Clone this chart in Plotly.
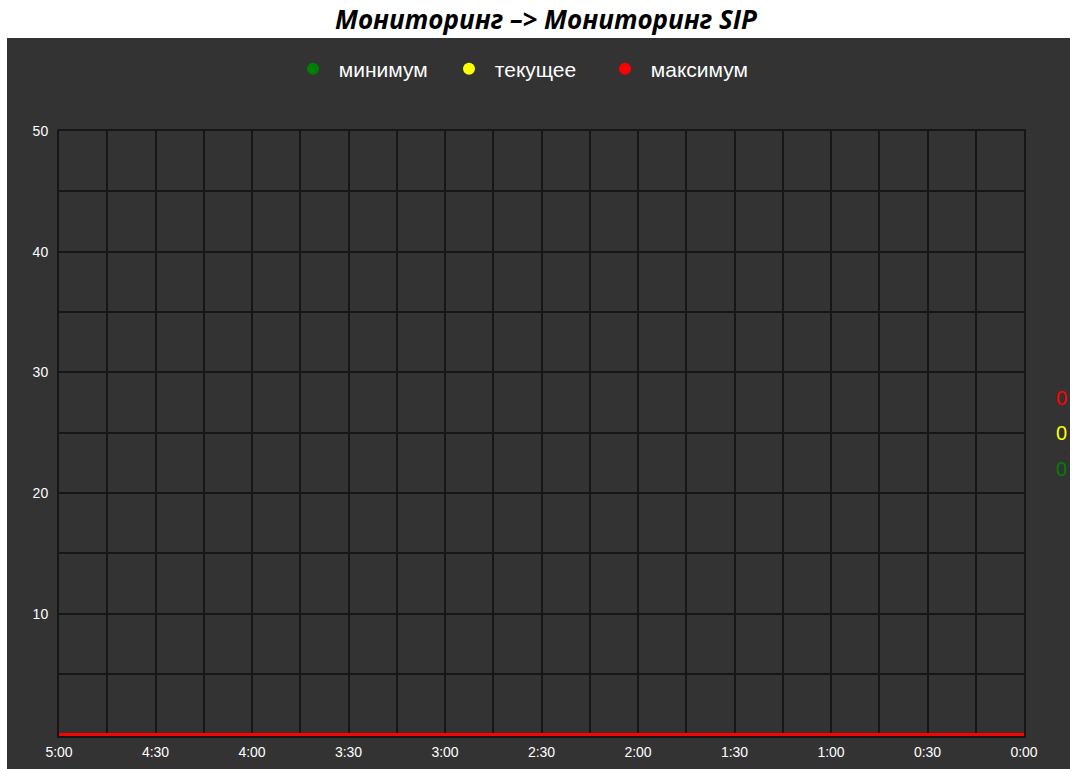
import plotly.graph_objects as go

# --- data ---
minutes_ago = [300, 285, 270, 255, 240, 225, 210, 195, 180, 165, 150, 135, 120,
               105, 90, 75, 60, 45, 30, 15, 0]
minimum = [0, 0, 0, 0, 0, 0, 0, 0, 0, 0, 0, 0, 0, 0, 0, 0, 0, 0, 0, 0, 0]
current = [0, 0, 0, 0, 0, 0, 0, 0, 0, 0, 0, 0, 0, 0, 0, 0, 0, 0, 0, 0, 0]
maximum = [0, 0, 0, 0, 0, 0, 0, 0, 0, 0, 0, 0, 0, 0, 0, 0, 0, 0, 0, 0, 0]
series_names = ["минимум", "текущее", "максимум"]
series_colors = ["#008000", "#ffff00", "#ff0000"]
x_tick_vals = [300, 270, 240, 210, 180, 150, 120, 90, 60, 30, 0]
x_tick_text = ["5:00", "4:30", "4:00", "3:30", "3:00", "2:30", "2:00", "1:30", "1:00", "0:30", "0:00"]
y_tick_vals = [10, 20, 30, 40, 50]

W, H = 1075, 769
Y_MAX = 50
UNIT = (735 - 131) / Y_MAX          # px per y unit
Y_PAD = 1.5 / UNIT                   # let the 3px line at y=0 show in full
L, R, T, B = 59, 1024, 131, 735 + 1.5
pw, ph = R - L, B - T
px = lambda x: (x - L) / pw
py = lambda y: (B - y) / ph

BG = "#333333"
GRID = "#161616"

fig = go.Figure()
for name, col, vals in zip(series_names, series_colors, [minimum, current, maximum]):
    fig.add_trace(go.Scatter(x=minutes_ago, y=vals, mode="lines", name=name,
                             line=dict(color=col, width=3), showlegend=False,
                             hoverinfo="skip"))
for name, col in zip(series_names, series_colors):
    fig.add_trace(go.Scatter(x=[None], y=[None], mode="markers", name=" " + name,
                             marker=dict(color=col, size=12)))

# current value labels at right
label_y = {"максимум": 398, "текущее": 433, "минимум": 469}
for name, col, vals in zip(series_names, series_colors, [minimum, current, maximum]):
    fig.add_annotation(x=px(1061), y=py(label_y[name]), xref="paper", yref="paper",
                       text=str(vals[-1]), showarrow=False,
                       font=dict(color=col, size=20, family="Arial"),
                       xanchor="center", yanchor="middle")

fig.add_shape(type="rect", xref="paper", yref="paper", layer="below",
              x0=px(7), x1=px(1070), y0=py(800), y1=py(38),
              fillcolor=BG, line=dict(width=0))

axis_common = dict(
    showgrid=True, gridcolor=GRID, gridwidth=2, zeroline=False,
    ticks="outside", tickcolor="rgba(0,0,0,0)",
    tickfont=dict(color="white", size=14, family="Arial"),
    showline=True, linecolor=GRID, linewidth=2, mirror=True,
    layer="below traces", fixedrange=True, automargin=False,
)

fig.update_layout(
    width=W, height=H,
    margin=dict(l=L, r=W - R, t=T, b=H - B, pad=0, autoexpand=False),
    paper_bgcolor="white", plot_bgcolor=BG,
    title=dict(text="<b><i>Мониторинг –> Мониторинг SIP</i></b>",
               x=546 / W, xref="container", xanchor="center",
               y=1 - 20 / H, yref="container", yanchor="middle",
               font=dict(family="Open Sans", size=26, color="black")),
    legend=dict(orientation="h", x=px(293), xanchor="left", y=py(69),
                yanchor="middle", font=dict(color="white", size=21, family="Arial"),
                bgcolor="rgba(0,0,0,0)", itemsizing="constant",
                entrywidth=111, entrywidthmode="pixels"),
    showlegend=True,
    xaxis=dict(range=[300, 0], tickvals=x_tick_vals, ticktext=x_tick_text, ticklen=2,
               minor=dict(dtick=15, tick0=0, showgrid=True, gridcolor=GRID, gridwidth=2),
               **axis_common),
    yaxis=dict(range=[-Y_PAD, Y_MAX], tickvals=y_tick_vals, ticklen=6,
               minor=dict(dtick=5, tick0=0, showgrid=True, gridcolor=GRID, gridwidth=2),
               **axis_common),
)

fig.write_html(
    "out.html",
    config={"displayModeBar": False},
    post_script="document.body.style.margin='0'; document.body.style.overflow='hidden';",
)
